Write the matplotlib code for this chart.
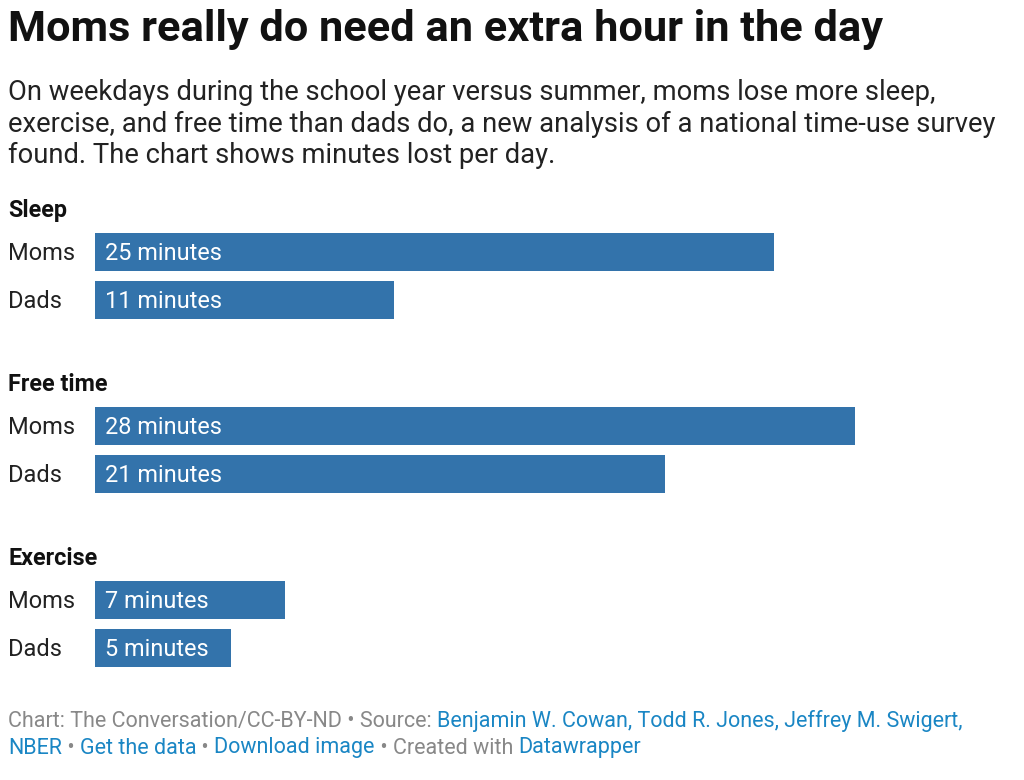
import matplotlib.pyplot as plt

plt.rcParams['font.family'] = ['Roboto', 'DejaVu Sans']

# data
groups = ["Sleep", "Free time", "Exercise"]
people = ["Moms", "Dads"]
minutes = [
    [25, 11],
    [28, 21],
    [7, 5],
]

BAR = "#3373ab"
GREY = "#888888"
LINK = "#1a86c4"

fig = plt.figure(figsize=(10.24, 7.8), dpi=100)
W, H = 1024, 780

# title + subtitle
fig.text(8 / W, 1 - 30 / H, "Moms really do need an extra hour in the day",
         fontsize=31.2, fontweight="bold", va="center", ha="left", color="#111111")
fig.text(8 / W, 1 - 124 / H,
         "On weekdays during the school year versus summer, moms lose more sleep,\n"
         "exercise, and free time than dads do, a new analysis of a national time-use survey\n"
         "found. The chart shows minutes lost per day.",
         fontsize=19.7, va="center", ha="left", color="#222222", linespacing=1.23)

# bar axes: x from px 95, 27.16 px per minute
left_px, right_px = 95, 95 + 27.16 * 30
top_px, bot_px = 200, 680
ax = fig.add_axes([left_px / W, 1 - bot_px / H, (right_px - left_px) / W, (bot_px - top_px) / H])
ax.set_xlim(0, 30)
row_px = 48.0
ax.set_ylim((bot_px - 252) / row_px, (top_px - 252) / row_px)  # inverted
ax.axis("off")

px = 1 / 27.16  # one pixel in data units
nudge = 2 / row_px  # text sits a touch lower than centre
gstep = 174 / row_px
for g, name in enumerate(groups):
    y0 = g * gstep
    ax.text(-87 * px, y0 - 0.9 + nudge, name, fontsize=16.8, fontweight="bold",
            va="center", ha="left", color="#111111")
    for r, who in enumerate(people):
        y = y0 + r
        v = minutes[g][r]
        ax.barh(y, v, height=38 / row_px, color=BAR, left=0)
        ax.text(-87 * px, y + nudge, who, fontsize=17, va="center",
                ha="left", color="#222222")
        ax.text(10 * px, y + nudge, f"{v} minutes", fontsize=16.9, va="center",
                ha="left", color="white")

# footer with mixed colours
segments = [
    [("Chart: The Conversation/CC-BY-ND • Source: ", GREY),
     ("Benjamin W. Cowan, Todd R. Jones, Jeffrey M. Swigert,", LINK)],
    [("NBER", LINK), (" • ", GREY), ("Get the data", LINK), (" • ", GREY),
     ("Download image", LINK), (" • Created with ", GREY), ("Datawrapper", LINK)],
]
renderer = fig.canvas.get_renderer()
for i, line in enumerate(segments):
    x = 8
    y = 721 + i * 27
    for txt, col in line:
        t = fig.text(x / W, 1 - y / H, txt, fontsize=15.5, color=col,
                     va="center", ha="left")
        bb = t.get_window_extent(renderer)
        x += bb.width

fig.savefig("out.png", dpi=100)
